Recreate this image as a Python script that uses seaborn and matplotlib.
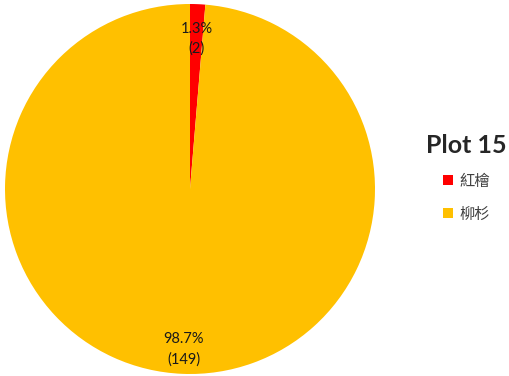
import matplotlib
matplotlib.use("Agg")
import matplotlib.pyplot as plt
from matplotlib.lines import Line2D
from matplotlib.transforms import offset_copy
import seaborn as sns

categories = ["紅檜", "柳杉"]
counts = [2, 149]
title = "Plot 15"
colors = ["#FF0000", "#FFC000"]

sns.set_theme(style="white")
plt.rcParams["font.family"] = ["Lato", "Noto Sans CJK TC", "DejaVu Sans"]

fig = plt.figure(figsize=(5.09, 3.76), dpi=100)
ax = fig.add_axes([5 / 509, 2 / 376, 370 / 509, 370 / 376])

palette = sns.color_palette(colors)
total = sum(counts)


def fmt(pct):
    n = round(pct * total / 100)
    return f"{pct:.1f}%\n({n})"


wedges, texts, autotexts = ax.pie(
    counts,
    colors=palette,
    startangle=90,
    counterclock=False,
    autopct=fmt,
    pctdistance=0.84,
    textprops={"fontsize": 10.5, "color": "#1a1a1a"},
    wedgeprops={"linewidth": 0},
)
for t in autotexts:
    t.set_linespacing(1.5)
    t.set_transform(offset_copy(t.get_transform(), fig=fig, x=0, y=-5, units="dots"))
ax.set_xlim(-1, 1)
ax.set_ylim(-1, 1)
ax.set_aspect("equal")
ax.axis("off")

handles = [
    Line2D([], [], marker="s", linestyle="none", markersize=7,
           markerfacecolor=c, markeredgewidth=0)
    for c in colors
]
leg = fig.legend(
    handles, categories,
    loc="upper left", bbox_to_anchor=(412 / 509, 1 - 120 / 376),
    frameon=False, title=title,
    prop={"family": ["Noto Sans CJK TC", "DejaVu Sans"], "size": 11},
    handlelength=0.8, handletextpad=0.35, labelspacing=1.05,
)
leg.get_title().set_fontsize(18)
leg.get_title().set_fontweight("bold")
leg.get_title().set_family(["Lato", "DejaVu Sans"])
for t in leg.get_texts():
    t.set_color("#404040")

fig.savefig("out.png", dpi=100)
